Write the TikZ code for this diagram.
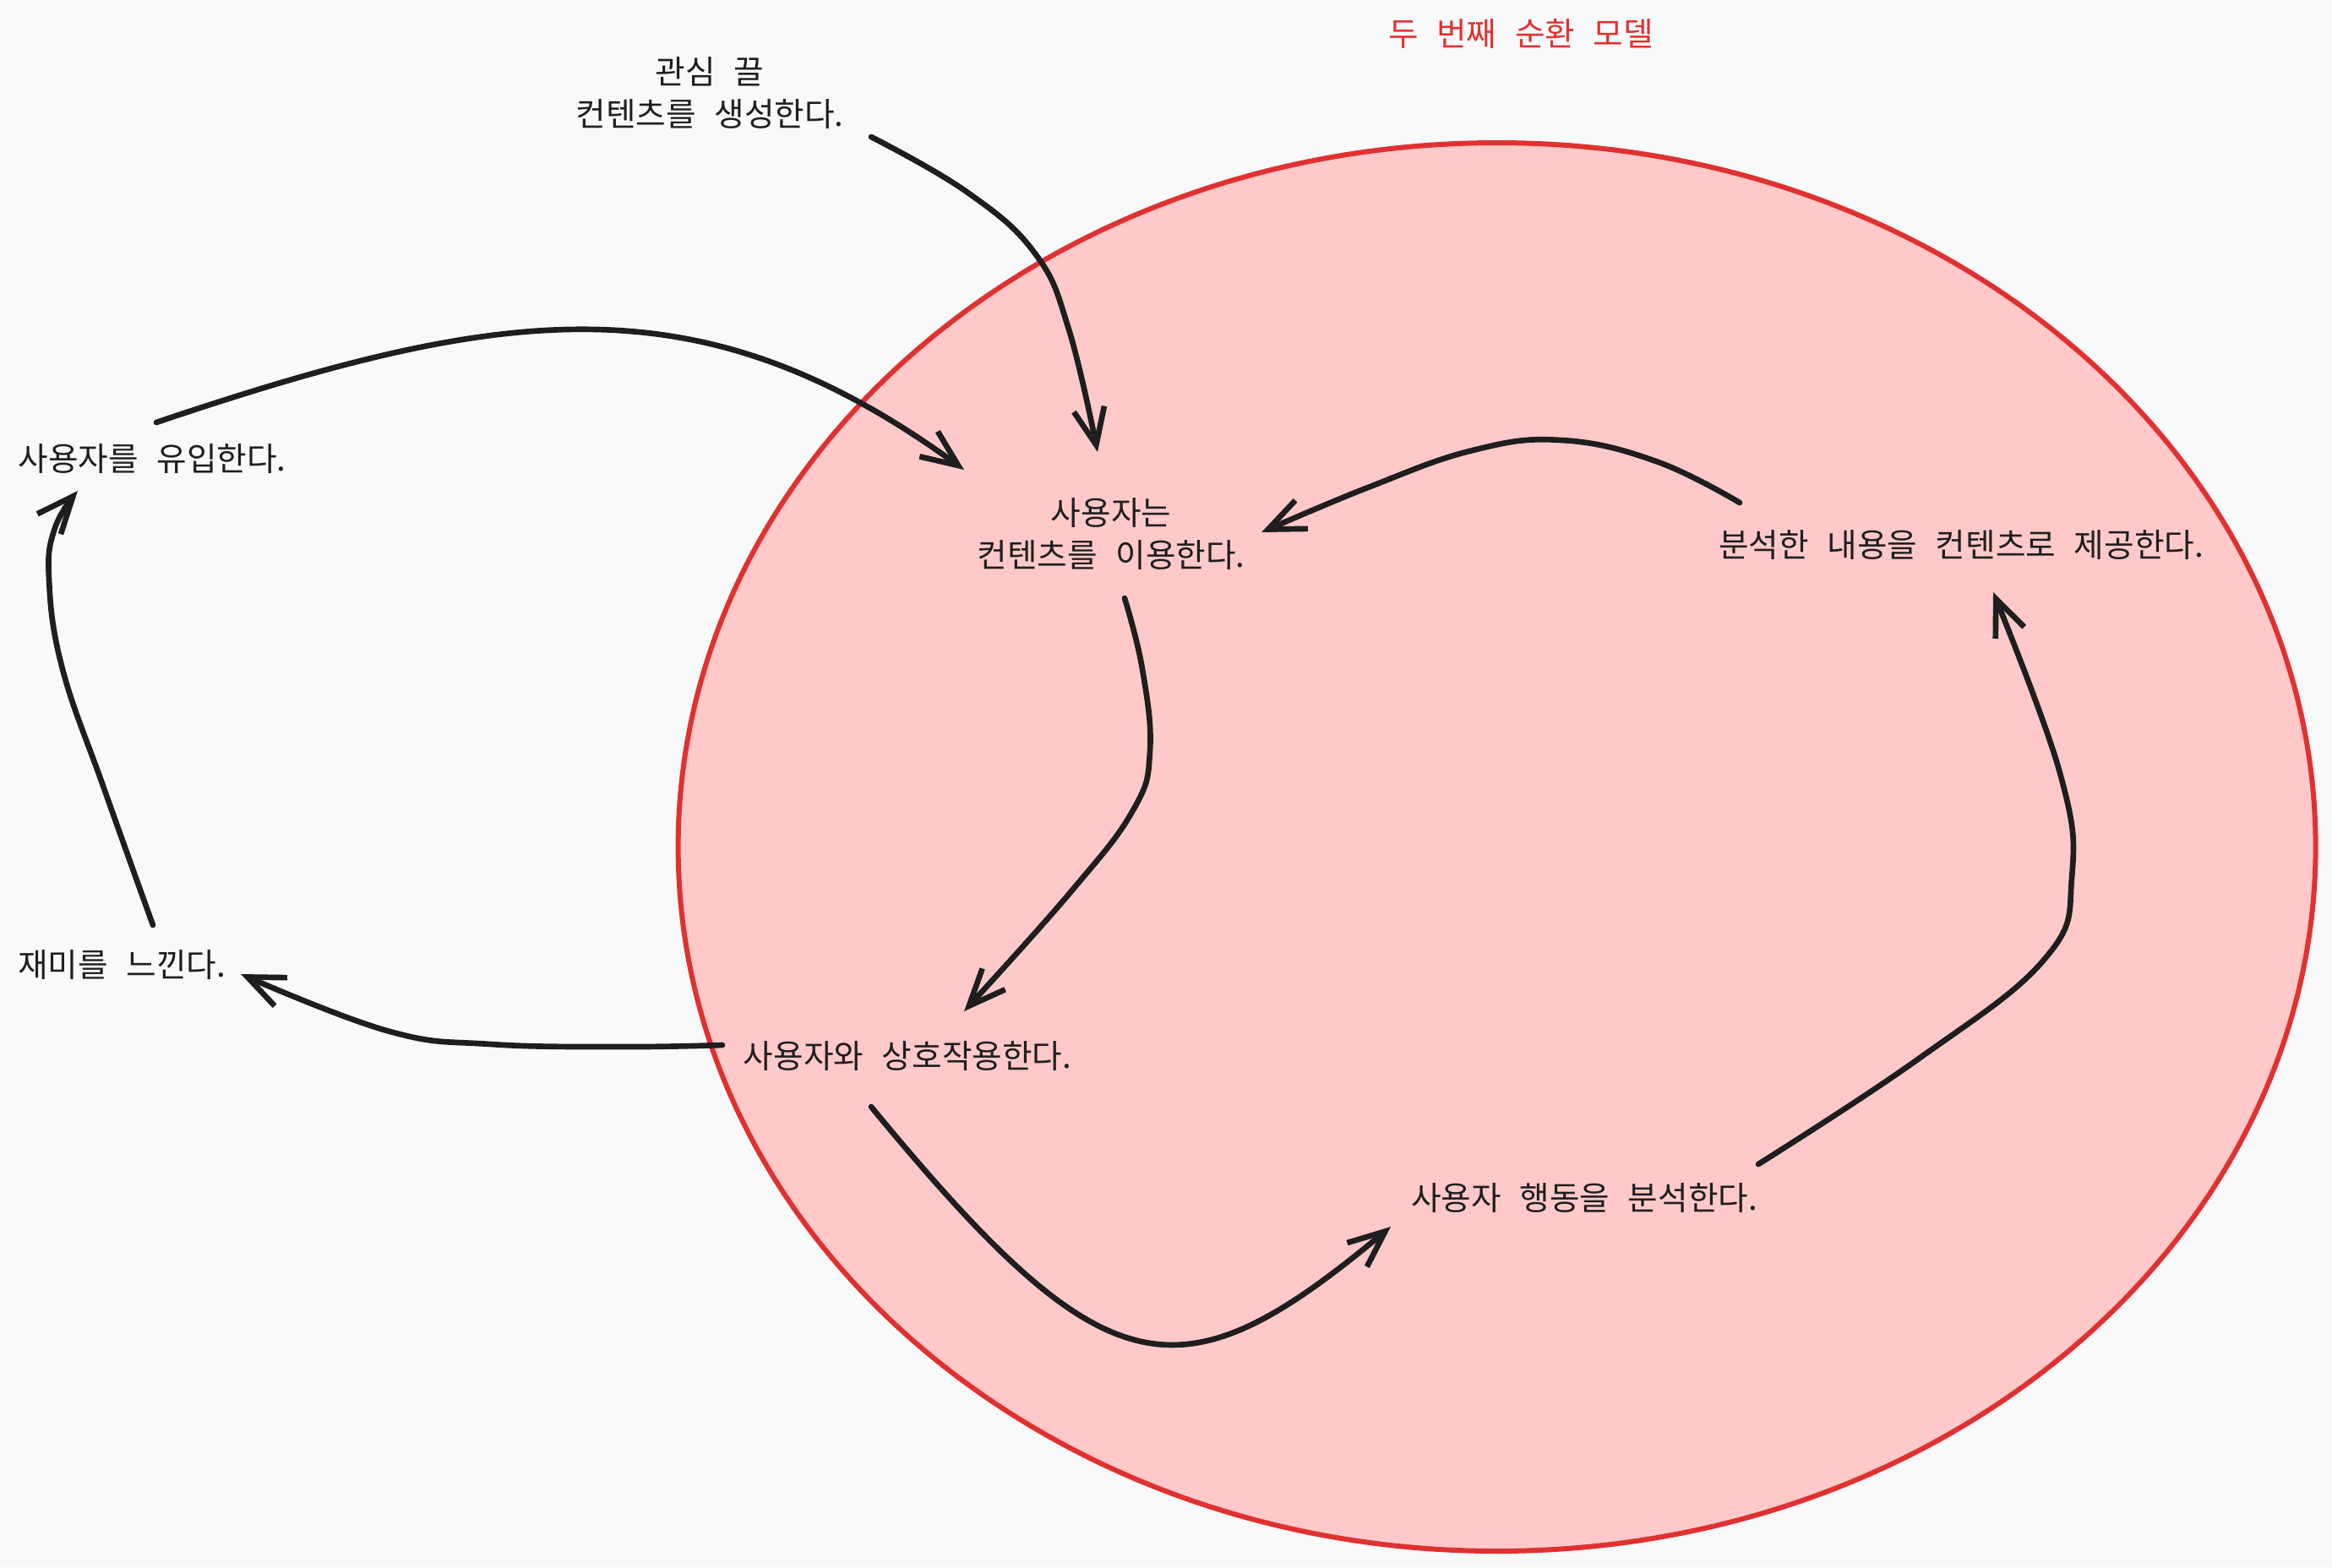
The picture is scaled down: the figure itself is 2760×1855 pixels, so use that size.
\documentclass[tikz,border=0pt]{standalone}
\usepackage{fontspec}
\newfontfamily\kr[WordSpace=2.5]{Noto Sans CJK KR}
\usetikzlibrary{arrows.meta,calc}
\definecolor{ink}{HTML}{1E1E1E}
\definecolor{bg}{HTML}{F8F9FA}
\definecolor{loopred}{HTML}{E03131}
\definecolor{loopfill}{HTML}{FFC9C9}

\begin{document}
\begin{tikzpicture}[x=0.3pt,y=-0.3pt,
  txt/.style={font=\kr\fontsize{11.6pt}{15pt}\selectfont, text=ink, inner sep=0pt, align=center},
  flow/.style={draw=ink, line width=2pt, line cap=round, line join=round,
               -{Straight Barb[length=13pt,width=11pt]}},
  curve/.style={smooth, tension=0.7}]

  % canvas
  \fill[bg] (0,0) rectangle (2760,1855);
  \useasboundingbox (0,0) rectangle (2760,1855);

  % the second loop
  \draw[loopred, fill=loopfill, line width=1.8pt]
    (1771.6,1002.5) ellipse [x radius=290.7pt, y radius=250.05pt];

  % labels
  \node[txt, text=loopred] (title) at (1800,40) {두 번째 순환 모델};
  \node[txt] (hook)     at (840,110)  {관심 끌\\컨텐츠를 생성한다.};
  \node[txt] (attract)  at (180,543)  {사용자를 유입한다.};
  \node[txt] (consume)  at (1315,632) {사용자는\\컨텐츠를 이용한다.};
  \node[txt] (provide)  at (2321,645) {분석한 내용을 컨텐츠로 제공한다.};
  \node[txt] (fun)      at (144,1142) {재미를 느낀다.};
  \node[txt] (interact) at (1074,1250){사용자와 상호작용한다.};
  \node[txt] (analyze)  at (1875,1418){사용자 행동을 분석한다.};

  % connector ends, placed around their labels
  \coordinate (hookOut)     at ($(hook)+(191,52)$);
  \coordinate (consumeInA)  at ($(consume)+(-16,-97)$);
  \coordinate (attractOut)  at ($(attract)+(5,-43)$);
  \coordinate (consumeInB)  at ($(consume)+(-174,-76)$);
  \coordinate (provideOut)  at ($(provide)+(-262,-50)$);
  \coordinate (consumeInC)  at ($(consume)+(178,-2)$);
  \coordinate (consumeOut)  at ($(consume)+(16,76)$);
  \coordinate (interactIn)  at ($(interact)+(67,-53)$);
  \coordinate (interactOutL) at ($(interact)+(-219,-13)$);
  \coordinate (funIn)       at ($(fun)+(141,11)$);
  \coordinate (funOut)      at ($(fun)+(37,-47)$);
  \coordinate (attractIn)   at ($(attract)+(-88,38)$);
  \coordinate (interactOutB) at ($(interact)+(-43,60)$);
  \coordinate (analyzeIn)   at ($(analyze)+(-229,34)$);
  \coordinate (analyzeOut)  at ($(analyze)+(206,-40)$);
  \coordinate (provideIn)   at ($(provide)+(38,56)$);

  % connectors
  \draw[flow] plot[curve] coordinates {(hookOut) (1144,227) (1225,300) (1265,390) (consumeInA)};
  \draw[flow] (attractOut) .. controls (600,360) and (830,330) .. (consumeInB);
  \draw[flow] plot[curve] coordinates {(provideOut) (1960,546) (1848,521) (1743,533) (1619,577) (consumeInC)};
  \draw[flow] plot[curve] coordinates {(consumeOut) (1352,792) (1361,889) (1341,959) (1267,1056) (interactIn)};
  \draw[flow] plot[curve] coordinates {(interactOutL) (739,1239) (581,1236) (458,1220) (funIn)};
  \draw[flow] plot[curve] coordinates {(funOut) (123,933) (74,792) (58,686) (65,625) (attractIn)};
  \draw[flow] (interactOutB) .. controls (1311,1650) and (1396,1660) .. (analyzeIn);
  \draw[flow] plot[curve] coordinates {(analyzeOut) (2271,1253) (2420,1135) (2452,1039) (2438,915) (provideIn)};
\end{tikzpicture}
\end{document}
